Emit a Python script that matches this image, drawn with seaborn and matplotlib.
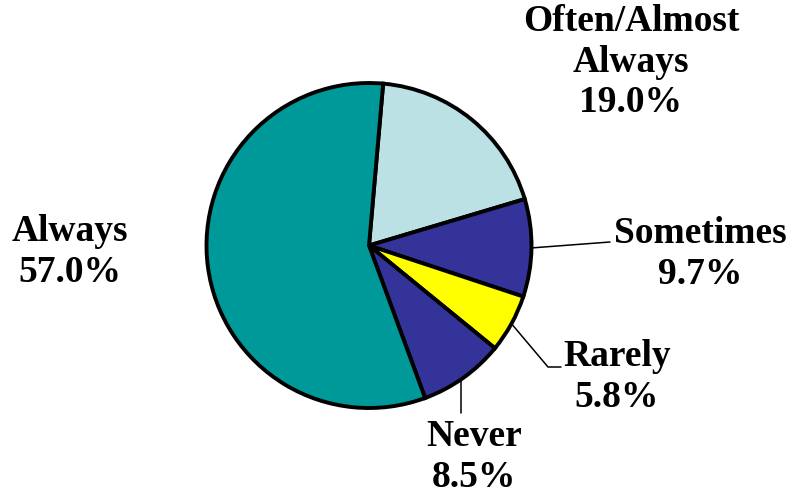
import matplotlib
matplotlib.use("Agg")
import matplotlib.pyplot as plt
import seaborn as sns
import numpy as np

# Data (clockwise from the top)
labels = ["Often/Almost\nAlways", "Sometimes", "Rarely", "Never", "Always"]
values = [19.0, 9.7, 5.8, 8.5, 57.0]
colors = ["#BBE1E4", "#333399", "#FFFF00", "#333399", "#009999"]

sns.set_theme(style="white")
plt.rcParams["font.family"] = ["Liberation Serif", "DejaVu Serif"]

fig = plt.figure(figsize=(7.91, 4.98), dpi=100)
ax = fig.add_axes([0, 0, 1, 1])

cx, cy, r = 369, 252.5, 162.5
wedges, _ = ax.pie(values, colors=colors, startangle=85, counterclock=False,
                   center=(cx, cy), radius=r, frame=True,
                   wedgeprops=dict(edgecolor="black", linewidth=2.8))
ax.set_xlim(0, 791)
ax.set_ylim(0, 498)
ax.set_aspect("equal")
ax.axis("off")

def edge(theta):
    t = np.deg2rad(theta)
    return cx + r * np.cos(t), cy + r * np.sin(t)

def mid(w):
    return (w.theta1 + w.theta2) / 2

txt = dict(fontsize=27, fontweight="bold", ha="center", va="center",
           linespacing=1.22, color="black")

# text positions (pixel coords, y from top)
pos = [(631, 62), (700, 254), (617, 377), (474, 457), (70, 252)]
for lab, v, (x, y) in zip(labels, values, pos):
    ax.text(x, 498 - y, f"{lab}\n{v:.1f}%", **txt)

# leader lines
x0, y0 = edge(mid(wedges[1]))
ax.plot([x0, 610], [y0, 498 - 242], color="black", lw=1.1)
x0, y0 = edge(mid(wedges[2]))
ax.plot([x0, 548, 561], [y0, 498 - 367, 498 - 367], color="black", lw=1.1)
x0 = 461
y0 = cy - np.sqrt(r**2 - (x0 - cx) ** 2)
ax.plot([x0, x0], [y0, 498 - 413], color="black", lw=1.1)

fig.savefig("out.png", dpi=100)
